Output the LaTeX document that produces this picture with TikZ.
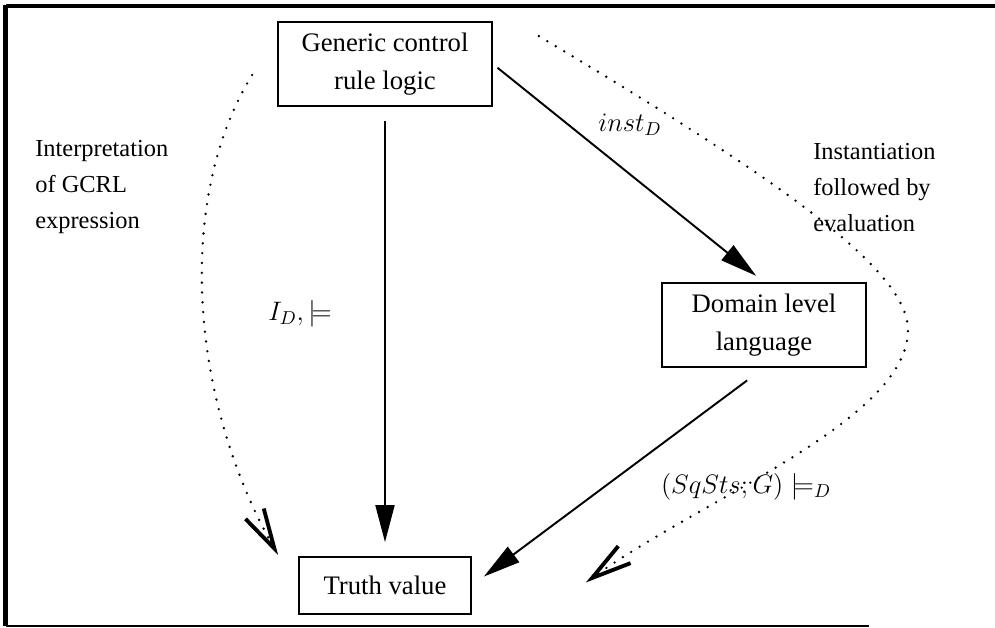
\documentclass[tikz,border=0pt]{standalone}
\usepackage{fix-cm}
\usepackage{fontspec}
\setmainfont{Liberation Serif}
\usetikzlibrary{arrows.meta, positioning}

\begin{document}
\begin{tikzpicture}[
    x=0.02cm, y=-0.02cm,
    box/.style={draw, line width=1pt, align=center, inner sep=0pt, font=\fontsize{15.2}{21.5}\selectfont},
    note/.style={align=left, inner sep=0pt, anchor=north west, font=\fontsize{13.9}{20.4}\selectfont},
    lbl/.style={inner sep=0pt, font=\fontsize{15.2}{18}\selectfont},
    arr/.style={line width=1.1pt, -{Triangle[length=0.74cm, width=0.38cm]}},
    dots/.style={line width=1.5pt, line cap=round, dash pattern=on 0pt off 5.6pt,
        -{Straight Barb[length=0.8cm, width=0.42cm, line width=2.2pt]}},
]
    \useasboundingbox (0,0) rectangle (995,628);
    % frame
    \draw[line width=1.8pt] (6,6) -- (995,6);
    \draw[line width=2.6pt] (5.5,5) -- (5.5,626);
    \draw[line width=1pt] (5.5,626) -- (869,626);

    \node[box, minimum width=4.28cm, minimum height=1.68cm] (gcrl) at (385,64) {Generic control\\rule logic};
    \node[box, minimum width=4.08cm, minimum height=1.68cm] (dom) at (764,325) {Domain level\\language};
    \node[box, minimum width=3.44cm, minimum height=1.14cm] (truth) at (385,585.5) {Truth value};

    \node[note] (interp) at (35,140) {Interpretation\\of GCRL\\expression};
    \node[note] (inst) at (813,143) {Instantiation\\followed by\\evaluation};

    \draw[arr, shorten <=0.28cm, shorten >=0.28cm] (gcrl) -- (truth);
    \draw[arr, shorten <=0.12cm, shorten >=0.2cm] (gcrl.east) -- (dom.north);
    \draw[arr, shorten <=0.42cm, shorten >=0.3cm] (dom.south) -- (truth.east);

    \node[lbl] (idl) at (300,314) {$I_D, \models$};
    \node[lbl] (instl) at (630,125) {$inst_D$};
    \node[lbl] (evall) at (746,487) {$(SqSts; G) \models_D$};

    % dotted routes
    \draw[dots] ([shift={(-25,11)}]gcrl.west) .. controls (175,200) and (190,400) .. ([shift={(-20,-1)}]truth.north west);
    \draw[dots] ([shift={(46,15)}]gcrl.north east) .. controls (780,180) and (908,270) .. (908,330)
        .. controls (908,420) and (700,500) .. ([shift={(114,-3)}]truth.east);
\end{tikzpicture}
\end{document}
